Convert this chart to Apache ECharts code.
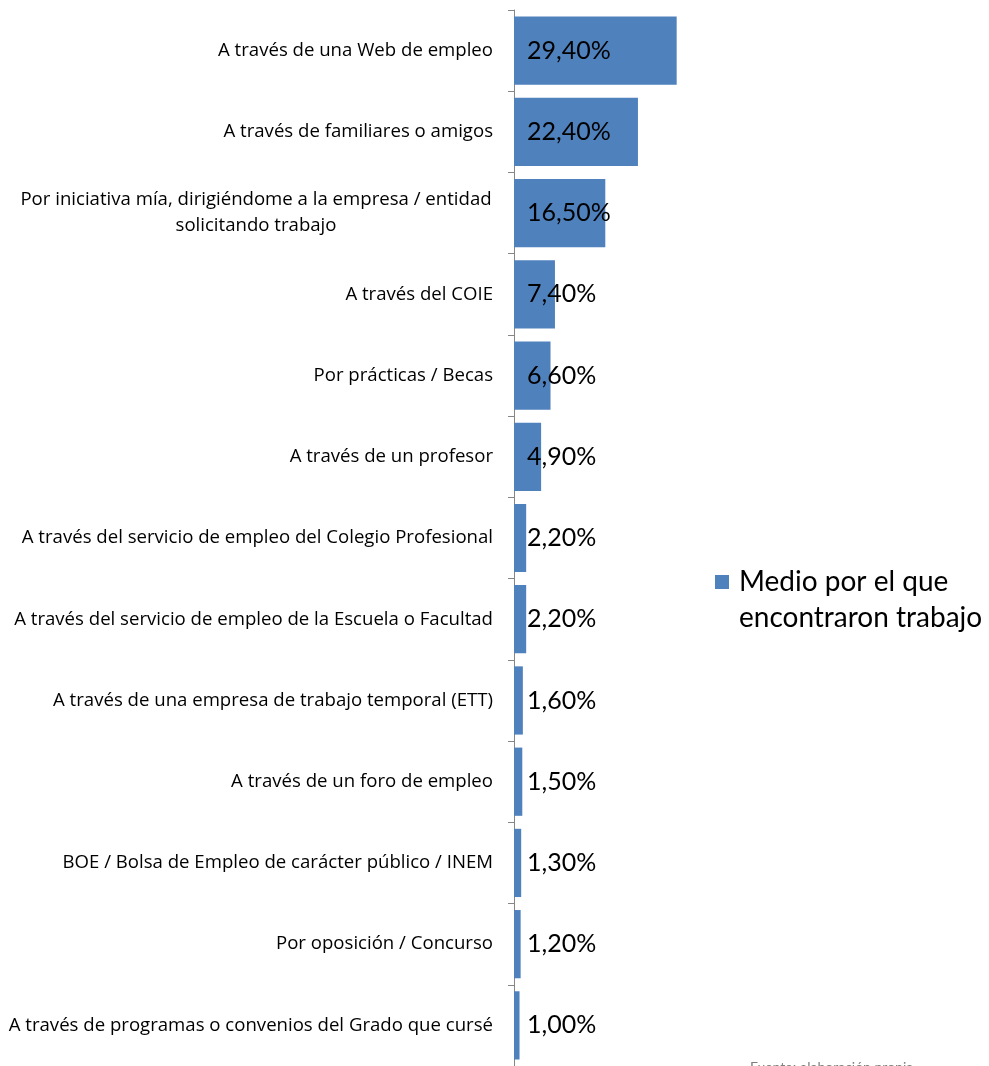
<!DOCTYPE html>
<html>
	<head>
		<meta charset="utf-8">
		<title>Medio por el que encontraron trabajo</title>
		<script type="text/javascript" src="https://cdn.jsdelivr.net/npm/echarts@6/dist/echarts.min.js"></script>
		<style>
			html, body { margin: 0; padding: 0; background: #FFFFFF; }
			#chart { width: 989px; height: 1066px; }
		</style>
	</head>
	<body>
		<div id="chart"></div>
		<script type="text/javascript">
			// categorías (de arriba a abajo) y porcentajes
			var categories = [
				'A través de una Web de empleo',
				'A través de familiares o amigos',
				'Por iniciativa mía, dirigiéndome a la empresa / entidad\nsolicitando trabajo',
				'A través del COIE',
				'Por prácticas / Becas',
				'A través de un profesor',
				'A través del servicio de empleo del Colegio Profesional',
				'A través del servicio de empleo de la Escuela o Facultad',
				'A través de una empresa de trabajo temporal (ETT)',
				'A través de un foro de empleo',
				'BOE / Bolsa de Empleo de carácter público / INEM',
				'Por oposición / Concurso',
				'A través de programas o convenios del Grado que cursé'
			];
			var values = [29.4, 22.4, 16.5, 7.4, 6.6, 4.9, 2.2, 2.2, 1.6, 1.5, 1.3, 1.2, 1.0];
			var seriesName = 'Medio por el que\nencontraron trabajo';

			var font = 'Lato, "Open Sans", sans-serif';
			var catFont = '"Open Sans", Lato, sans-serif';

			var option = {
				animation: false,
				grid: {
					left: 514,
					top: 10,
					width: 166,
					height: 1059
				},
				legend: {
					left: 710,
					top: 563,
					icon: 'rect',
					itemWidth: 14,
					itemHeight: 14,
					itemGap: 0,
					// la primera línea va junto al cuadro, la segunda es un texto aparte
					formatter: function(name) {
						return name.split('\n')[0];
					},
					textStyle: {
						fontFamily: font,
						fontSize: 28,
						color: '#000000',
						padding: [8, 0, 0, 5]
					},
					data: [seriesName]
				},
				xAxis: {
					type: 'value',
					min: 0,
					max: 30,
					show: false
				},
				yAxis: {
					type: 'category',
					inverse: true,
					data: categories,
					axisLine: { show: true, lineStyle: { color: '#868686', width: 1 } },
					axisTick: { show: true, length: 6, lineStyle: { color: '#868686' } },
					axisLabel: {
						margin: 21,
						fontFamily: catFont,
						fontSize: 18.6,
						color: '#000000',
						lineHeight: 24,
						formatter: function(v) {
							// la etiqueta de dos líneas va centrada
							if (v.indexOf('\n') >= 0) {
								return v.split('\n').map(function(s) { return '{c|' + s + '}'; }).join('\n');
							}
							return v;
						},
						rich: {
							c: {
								width: 474,
								align: 'center',
								fontFamily: catFont,
								fontSize: 18.6,
								lineHeight: 26,
								color: '#000000'
							}
						}
					}
				},
				series: [{
					name: seriesName,
					type: 'bar',
					data: values,
					barCategoryGap: '16%',
					itemStyle: { color: '#4F81BD' },
					label: {
						show: true,
						position: 'insideLeft',
						distance: 13,
						fontFamily: font,
						fontSize: 25,
						color: '#000000',
						formatter: function(p) {
							return p.value.toFixed(2).replace('.', ',') + '%';
						}
					}
				}],
				graphic: [{
					type: 'text',
					left: 739,
					top: 604,
					style: {
						text: seriesName.split('\n')[1],
						fontFamily: font,
						fontSize: 28,
						fill: '#000000'
					}
				}, {
					type: 'text',
					left: 750,
					top: 1060,
					style: {
						text: 'Fuente: elaboración propia',
						fontFamily: font,
						fontSize: 14,
						fill: '#7F7F7F'
					}
				}]
			};

			var myChart = echarts.init(document.getElementById('chart'));
			myChart.setOption(option);
		</script>
	</body>
</html>
